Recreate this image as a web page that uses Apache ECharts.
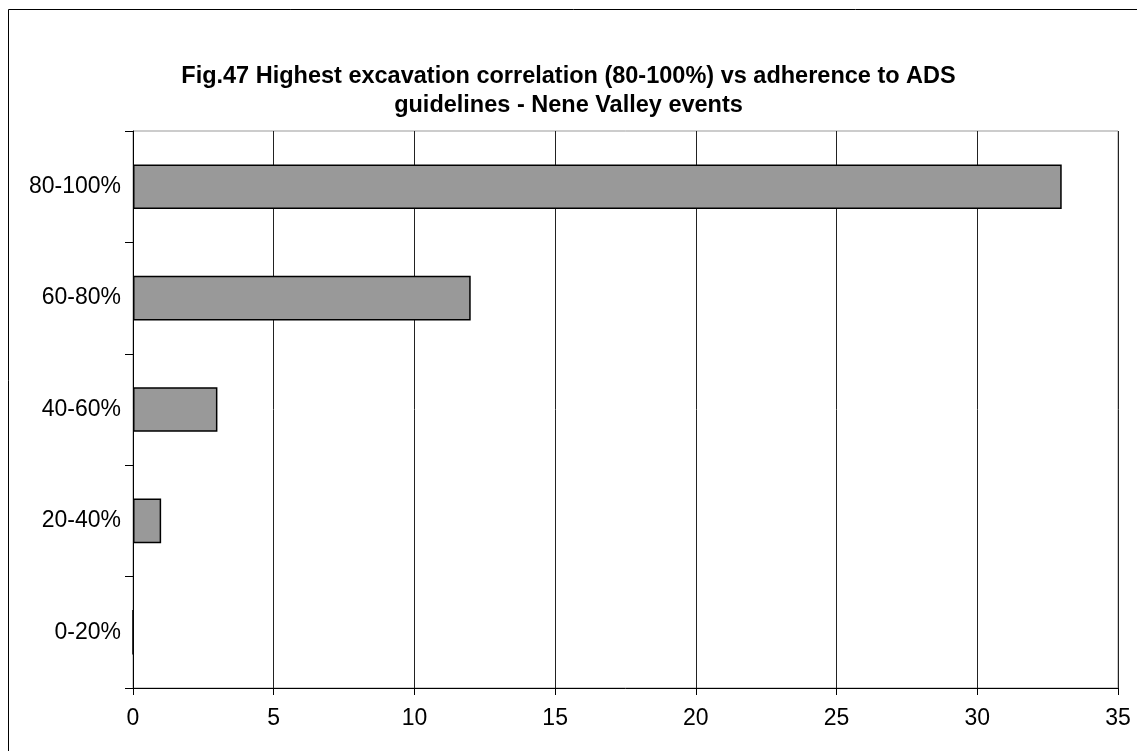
<!DOCTYPE html>
<html>
<head>
<meta charset="utf-8">
<script src="https://cdn.jsdelivr.net/npm/echarts@6/dist/echarts.min.js"></script>
<style>
html,body{margin:0;padding:0;background:#fff;}
#chart{width:1137px;height:751px;}
</style>
</head>
<body>
<div id="chart"></div>
<script>
// Adherence bands (bottom to top) and number of events in each
const categories = ['0-20%', '20-40%', '40-60%', '60-80%', '80-100%'];
const eventCounts = [0, 1, 3, 12, 33];
const titleLines = ['Fig.47 Highest excavation correlation (80-100%) vs adherence to ADS', 'guidelines - Nene Valley events'];

const font = '"Liberation Sans", Arial, sans-serif';
const chart = echarts.init(document.getElementById('chart'));
chart.setOption({
  animation: false,
  backgroundColor: '#fff',
  title: {
    text: titleLines.join('\n'),
    left: 'center',
    top: 57,
    textStyle: { fontFamily: font, fontSize: 23.5, fontWeight: 'bold', color: '#000', lineHeight: 29 }
  },
  graphic: [{
    type: 'rect',
    shape: { x: 8.5, y: 9.5, width: 1200, height: 800 },
    style: { fill: null, stroke: '#000', lineWidth: 1 },
    silent: true
  }],
  grid: {
    left: 133, right: 19, top: 131, bottom: 63,
    show: true, borderColor: '#999', borderWidth: 1, backgroundColor: '#fff'
  },
  xAxis: {
    type: 'value', min: 0, max: 35, interval: 5,
    axisLine: { show: true, lineStyle: { color: '#000', width: 1 } },
    axisTick: { show: true, length: 7, lineStyle: { color: '#000' } },
    axisLabel: { fontFamily: font, fontSize: 23, color: '#000', margin: 19 },
    splitLine: { show: true, lineStyle: { color: '#222', width: 1 } }
  },
  yAxis: {
    type: 'category', data: categories,
    axisLine: { show: true, lineStyle: { color: '#000', width: 1 } },
    axisTick: { show: true, length: 8, lineStyle: { color: '#000' } },
    axisLabel: { fontFamily: font, fontSize: 23, color: '#000', margin: 12 }
  },
  series: [{
    type: 'bar',
    data: eventCounts,
    barCategoryGap: '60%',
    itemStyle: { color: '#999999', borderColor: '#000', borderWidth: 1.5 }
  }]
});
</script>
</body>
</html>
